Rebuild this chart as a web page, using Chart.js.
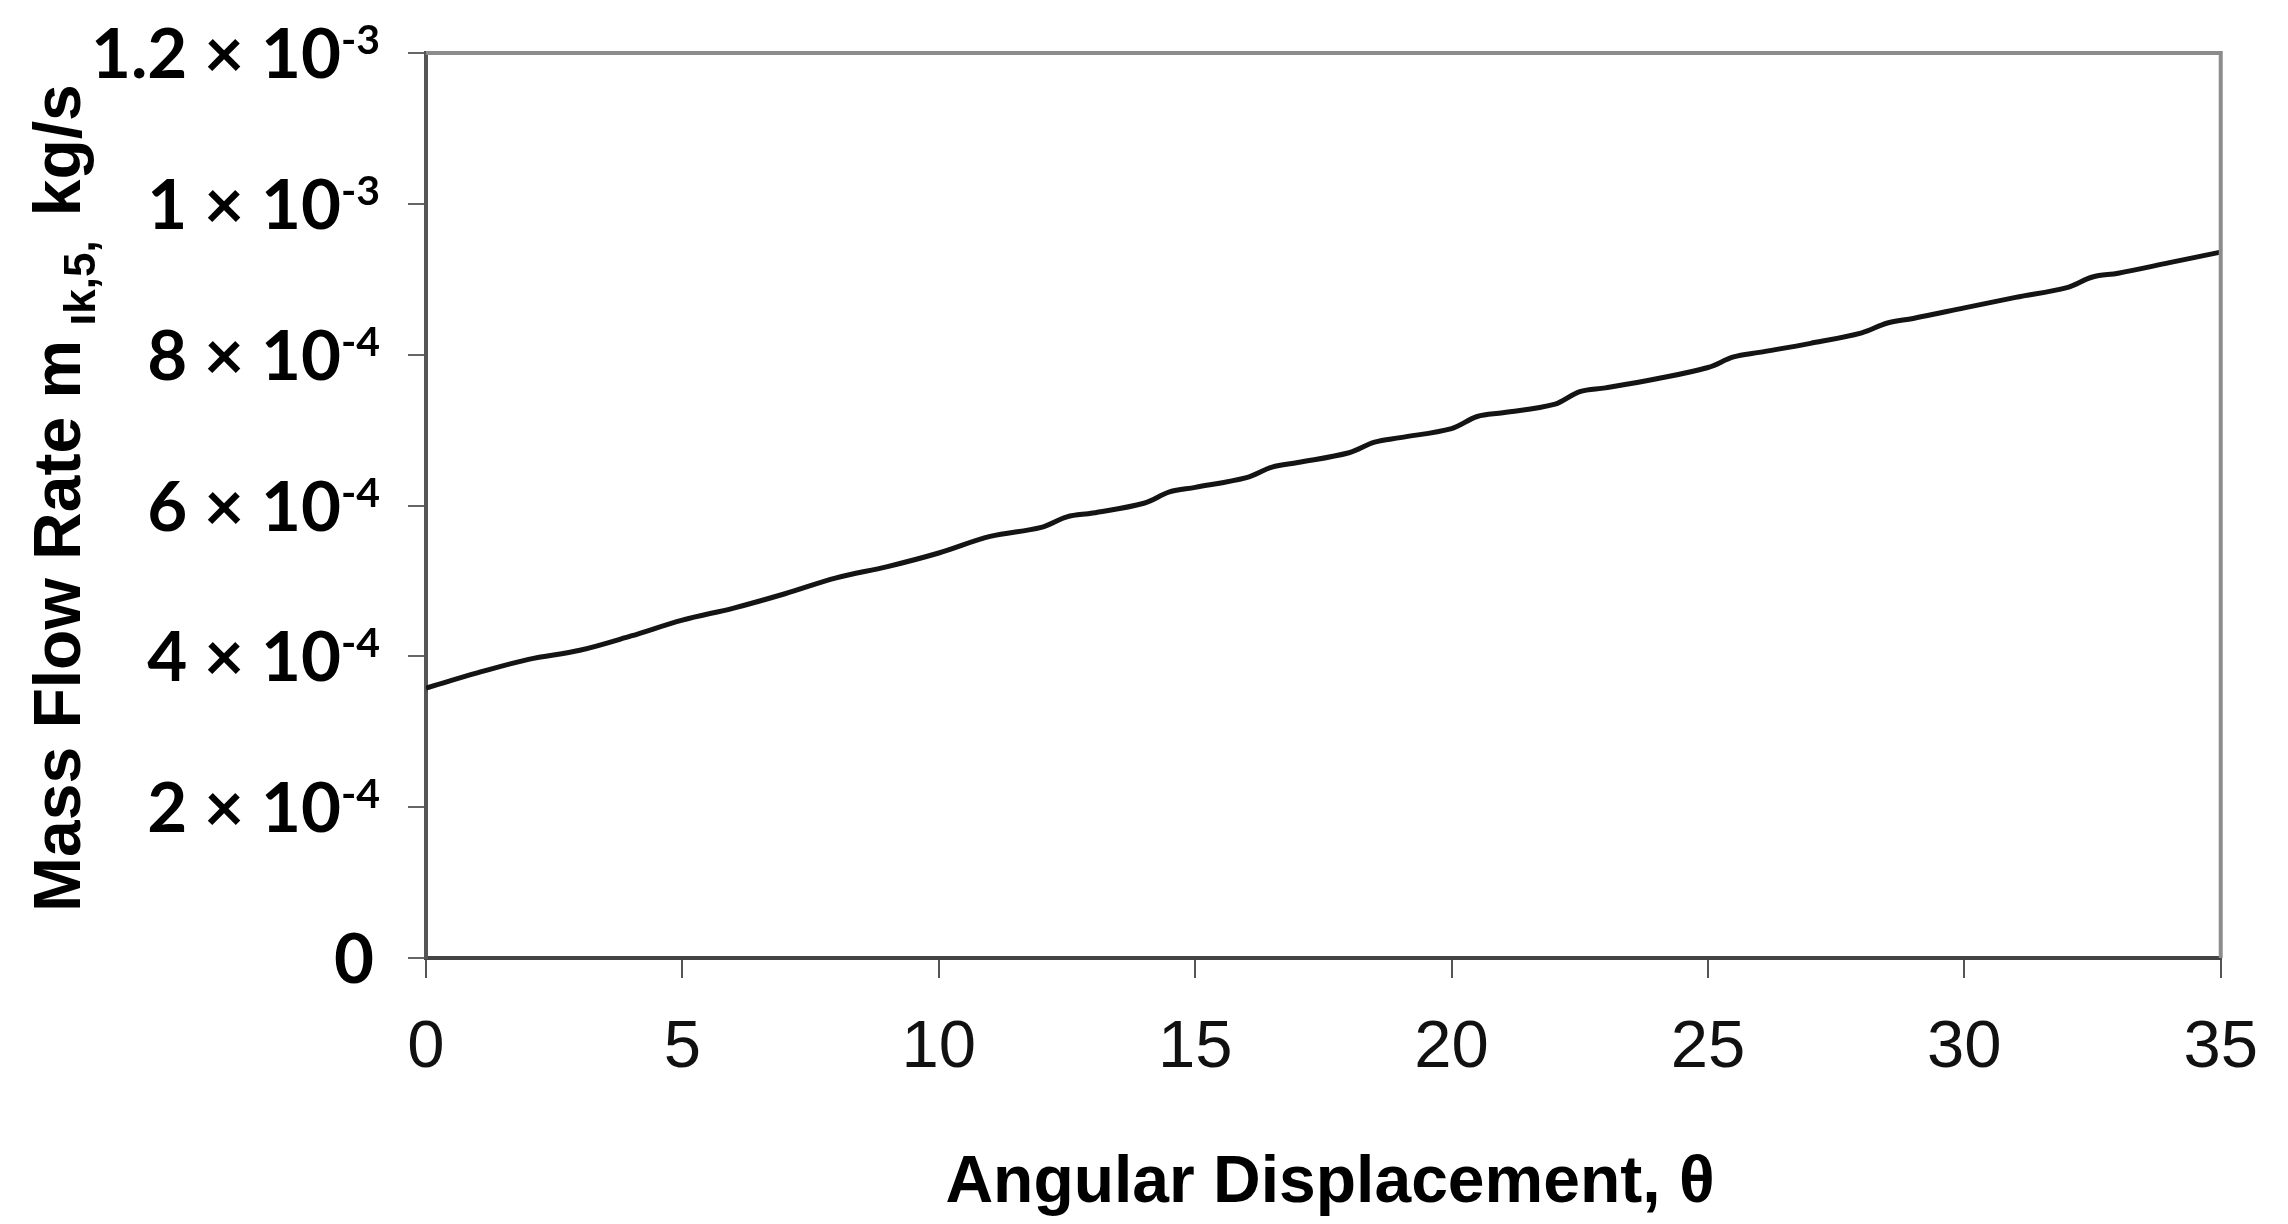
<!DOCTYPE html>
<html>
<head>
<meta charset="utf-8">
<script src="https://cdn.jsdelivr.net/npm/chart.js@4.4.1/dist/chart.umd.min.js"></script>
<style>
  body { margin: 0; background: #fff; }
  #wrap { width: 2288px; height: 1224px; }
</style>
</head>
<body>
<div id="wrap"><canvas id="flowChart" width="2288" height="1224"></canvas></div>
<script>
// angular displacement (theta) and mass flow rate
const theta = [0, 1, 2, 3, 4, 5, 6, 7, 8, 9, 10, 11, 12, 12.5, 13, 14, 14.5, 15, 16, 16.5, 17,
  18, 18.5, 19, 20, 20.5, 21, 22, 22.5, 23, 24, 25, 25.5, 26, 27, 28, 28.5, 29, 30, 31, 32, 32.5, 33, 34, 35];
const massFlow = [3.58e-4, 3.78e-4, 3.96e-4, 4.08e-4, 4.27e-4, 4.48e-4, 4.64e-4, 4.83e-4, 5.04e-4, 5.19e-4,
  5.37e-4, 5.59e-4, 5.71e-4, 5.85e-4, 5.90e-4, 6.03e-4, 6.18e-4, 6.24e-4, 6.37e-4, 6.51e-4, 6.57e-4,
  6.70e-4, 6.84e-4, 6.90e-4, 7.02e-4, 7.18e-4, 7.23e-4, 7.34e-4, 7.51e-4, 7.56e-4, 7.68e-4, 7.83e-4,
  7.97e-4, 8.03e-4, 8.15e-4, 8.29e-4, 8.42e-4, 8.48e-4, 8.62e-4, 8.76e-4, 8.89e-4, 9.03e-4, 9.08e-4,
  9.22e-4, 9.36e-4];

// y tick labels: mantissa part and exponent part
const yTickValues = [0, 2e-4, 4e-4, 6e-4, 8e-4, 1e-3, 1.2e-3];
const yTickBase = ['0', '2 × 10', '4 × 10', '6 × 10', '8 × 10', '1 × 10', '1.2 × 10'];
const yTickExp = ['', '-4', '-4', '-4', '-4', '-3', '-3'];

const xTitle = 'Angular Displacement, θ';
const yTitleParts = ['Mass Flow Rate m', 'ık,5,', 'kg/s'];

const decor = {
  id: 'decor',
  afterDraw(chart) {
    const c = chart.ctx;
    const area = chart.chartArea;
    const yScale = chart.scales.y;

    // top and right frame
    c.save();
    c.strokeStyle = '#8c8c8c';
    c.lineWidth = 4;
    c.beginPath();
    c.moveTo(area.left, area.top);
    c.lineTo(area.right, area.top);
    c.lineTo(area.right, area.bottom);
    c.stroke();

    // y tick labels with superscript exponents
    c.fillStyle = '#000';
    c.textBaseline = 'alphabetic';
    c.textAlign = 'left';
    const rightEdge = 380;
    yTickValues.forEach((v, i) => {
      const y = yScale.getPixelForValue(v);
      c.font = 'bold 41px Lato';
      const ew = yTickExp[i] ? c.measureText(yTickExp[i]).width : 0;
      c.font = 'bold 69px Lato';
      const bw = c.measureText(yTickBase[i]).width;
      const x0 = rightEdge - ew - bw - (yTickExp[i] ? 0 : 6);
      c.fillText(yTickBase[i], x0, y + 25);
      if (yTickExp[i]) {
        c.font = 'bold 41px Lato';
        c.fillText(yTickExp[i], x0 + bw, y + 1);
      }
    });

    // x title
    c.font = 'bold 66px "Liberation Sans"';
    c.textAlign = 'center';
    c.textBaseline = 'middle';
    c.fillText(xTitle, 1330, 1184);

    // y title, rotated, with subscript
    c.translate(80, 912);
    c.rotate(-Math.PI / 2);
    c.textAlign = 'left';
    c.textBaseline = 'alphabetic';
    let x = 0;
    c.font = 'bold 66px "Liberation Sans"';
    c.fillText(yTitleParts[0], x, 0);
    x += c.measureText(yTitleParts[0]).width + 14;
    c.font = 'bold 44px "Liberation Sans"';
    c.fillText(yTitleParts[1], x, 15);
    x += c.measureText(yTitleParts[1]).width + 24;
    c.font = 'bold 66px "Liberation Sans"';
    c.fillText(yTitleParts[2], x, 0);
    c.restore();
  }
};

const ctx = document.getElementById('flowChart').getContext('2d');
new Chart(ctx, {
  type: 'scatter',
  data: {
    datasets: [{
      data: theta.map((t, i) => ({ x: t, y: massFlow[i] })),
      showLine: true,
      borderColor: '#141414',
      borderWidth: 5,
      pointRadius: 0,
      tension: 0.35
    }]
  },
  options: {
    responsive: false,
    animation: false,
    layout: { padding: { top: 53, right: 48, left: 0, bottom: 0 } },
    plugins: { legend: { display: false }, tooltip: { enabled: false } },
    scales: {
      x: {
        type: 'linear',
        min: 0,
        max: 35,
        ticks: {
          stepSize: 5,
          autoSkip: false,
          maxRotation: 0,
          color: '#111',
          padding: 30,
          font: { family: 'Liberation Sans', size: 67 }
        },
        grid: { drawOnChartArea: false, tickLength: 20, color: '#555', lineWidth: 2 },
        border: { color: '#444', width: 4 },
        afterFit: s => { s.height = 266; }
      },
      y: {
        min: 0,
        max: 1.2e-3,
        ticks: { stepSize: 2e-4, display: false },
        grid: { drawOnChartArea: false, tickLength: 18, color: '#666', lineWidth: 2 },
        border: { color: '#555', width: 4 },
        afterFit: s => { s.width = 426; }
      }
    }
  },
  plugins: [decor]
});
</script>
</body>
</html>
